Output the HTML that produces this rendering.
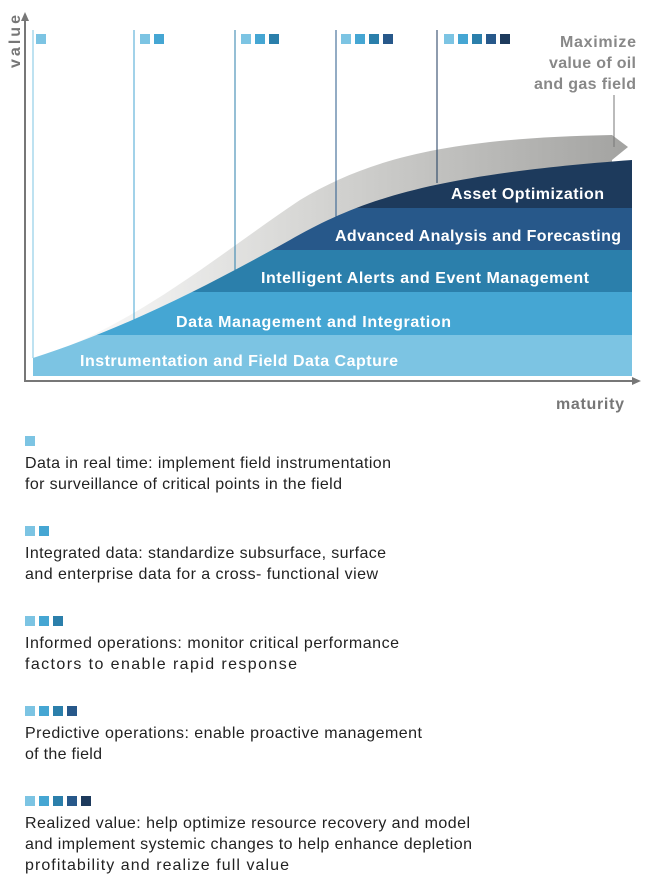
<!DOCTYPE html>
<html><head><meta charset="utf-8"><style>
body{margin:0;background:#fff;}
svg{display:block;}
text{font-family:"Liberation Sans",Arial,sans-serif;}
</style></head><body>
<svg width="647" height="879" viewBox="0 0 647 879" xmlns="http://www.w3.org/2000/svg">
<defs>
<linearGradient id="bg" x1="0" y1="0" x2="1" y2="0">
<stop offset="0" stop-color="#ffffff"/>
<stop offset="0.45" stop-color="#d6d6d4"/>
<stop offset="1" stop-color="#a3a3a1"/>
</linearGradient>
<clipPath id="st"><path d="M33,376 L33,358 C120,330 200,290 290,240 C360,200 430,175 632,160 L632,376 Z"/></clipPath>
</defs>
<path d="M45,355 C140,322 225,250 300,200 C370,158 450,138 612,135 L628,147 L612,160 L612,175 L45,372 Z" fill="url(#bg)"/>
<g clip-path="url(#st)">
<rect x="33" y="335" width="599" height="41" fill="#7cc4e3"/>
<rect x="33" y="292" width="599" height="43" fill="#45a6d3"/>
<rect x="33" y="250" width="599" height="42" fill="#2b7fab"/>
<rect x="33" y="208" width="599" height="42" fill="#27588a"/>
<rect x="33" y="150" width="599" height="58" fill="#1d3a5c"/>
</g>
<line x1="33" y1="30" x2="33" y2="358" stroke="#7cc4e3" stroke-width="1"/>
<line x1="134" y1="30" x2="134" y2="323" stroke="#45a6d3" stroke-width="1"/>
<line x1="235" y1="30" x2="235" y2="272" stroke="#2b7fab" stroke-width="1"/>
<line x1="336" y1="30" x2="336" y2="218" stroke="#27588a" stroke-width="1"/>
<line x1="437" y1="30" x2="437" y2="183" stroke="#1d3a5c" stroke-width="1"/>
<g>
<rect x="36" y="34" width="10" height="10" fill="#7cc4e3"/>
<rect x="140" y="34" width="10" height="10" fill="#7cc4e3"/><rect x="154" y="34" width="10" height="10" fill="#45a6d3"/>
<rect x="241" y="34" width="10" height="10" fill="#7cc4e3"/><rect x="255" y="34" width="10" height="10" fill="#45a6d3"/><rect x="269" y="34" width="10" height="10" fill="#2b7fab"/>
<rect x="341" y="34" width="10" height="10" fill="#7cc4e3"/><rect x="355" y="34" width="10" height="10" fill="#45a6d3"/><rect x="369" y="34" width="10" height="10" fill="#2b7fab"/><rect x="383" y="34" width="10" height="10" fill="#27588a"/>
<rect x="444" y="34" width="10" height="10" fill="#7cc4e3"/><rect x="458" y="34" width="10" height="10" fill="#45a6d3"/><rect x="472" y="34" width="10" height="10" fill="#2b7fab"/><rect x="486" y="34" width="10" height="10" fill="#27588a"/><rect x="500" y="34" width="10" height="10" fill="#1d3a5c"/>
</g>
<line x1="25" y1="18" x2="25" y2="381" stroke="#777" stroke-width="2"/>
<path d="M25,12 L21,21 L29,21 Z" fill="#777"/>
<line x1="24" y1="381" x2="634" y2="381" stroke="#777" stroke-width="2"/>
<path d="M641,381 L632,377 L632,385 Z" fill="#777"/>
<text transform="translate(20,68) rotate(-90)" font-size="16" font-weight="bold" fill="#777" textLength="53">value</text>
<text x="556" y="409" font-size="16" font-weight="bold" fill="#777" textLength="68">maturity</text>
<g font-size="16" font-weight="bold" fill="#888">
<text x="560" y="47" textLength="76">Maximize</text>
<text x="549" y="68" textLength="87">value of oil</text>
<text x="534" y="89" textLength="102">and gas field</text>
</g>
<line x1="614" y1="95" x2="614" y2="147" stroke="#777" stroke-width="1"/>
<g font-size="16" font-weight="bold" fill="#fff" lengthAdjust="spacingAndGlyphs">
<text x="80" y="366" textLength="318">Instrumentation and Field Data Capture</text>
<text x="176" y="327" textLength="275">Data Management and Integration</text>
<text x="261" y="283" textLength="328">Intelligent Alerts and Event Management</text>
<text x="335" y="241" textLength="286">Advanced Analysis and Forecasting</text>
<text x="451" y="199" textLength="153">Asset Optimization</text>
</g>
<g>
<rect x="25" y="436" width="10" height="10" fill="#7cc4e3"/>
<rect x="25" y="526" width="10" height="10" fill="#7cc4e3"/><rect x="39" y="526" width="10" height="10" fill="#45a6d3"/>
<rect x="25" y="616" width="10" height="10" fill="#7cc4e3"/><rect x="39" y="616" width="10" height="10" fill="#45a6d3"/><rect x="53" y="616" width="10" height="10" fill="#2b7fab"/>
<rect x="25" y="706" width="10" height="10" fill="#7cc4e3"/><rect x="39" y="706" width="10" height="10" fill="#45a6d3"/><rect x="53" y="706" width="10" height="10" fill="#2b7fab"/><rect x="67" y="706" width="10" height="10" fill="#27588a"/>
<rect x="25" y="796" width="10" height="10" fill="#7cc4e3"/><rect x="39" y="796" width="10" height="10" fill="#45a6d3"/><rect x="53" y="796" width="10" height="10" fill="#2b7fab"/><rect x="67" y="796" width="10" height="10" fill="#27588a"/><rect x="81" y="796" width="10" height="10" fill="#1d3a5c"/>
</g>
<g font-size="16" fill="#222" lengthAdjust="spacingAndGlyphs">
<text x="25" y="468" textLength="366">Data in real time: implement field instrumentation</text>
<text x="25" y="489" textLength="317">for surveillance of critical points in the field</text>
<text x="25" y="558" textLength="361">Integrated data: standardize subsurface, surface</text>
<text x="25" y="579" textLength="353">and enterprise data for a cross- functional view</text>
<text x="25" y="648" textLength="374">Informed operations: monitor critical performance</text>
<text x="25" y="669" textLength="272">factors to enable rapid response</text>
<text x="25" y="738" textLength="397">Predictive operations: enable proactive management</text>
<text x="25" y="759" textLength="77">of the field</text>
<text x="25" y="828" textLength="445">Realized value: help optimize resource recovery and model</text>
<text x="25" y="849" textLength="447">and implement systemic changes to help enhance depletion</text>
<text x="25" y="870" textLength="264">profitability and realize full value</text>
</g>
</svg>
</body></html>
